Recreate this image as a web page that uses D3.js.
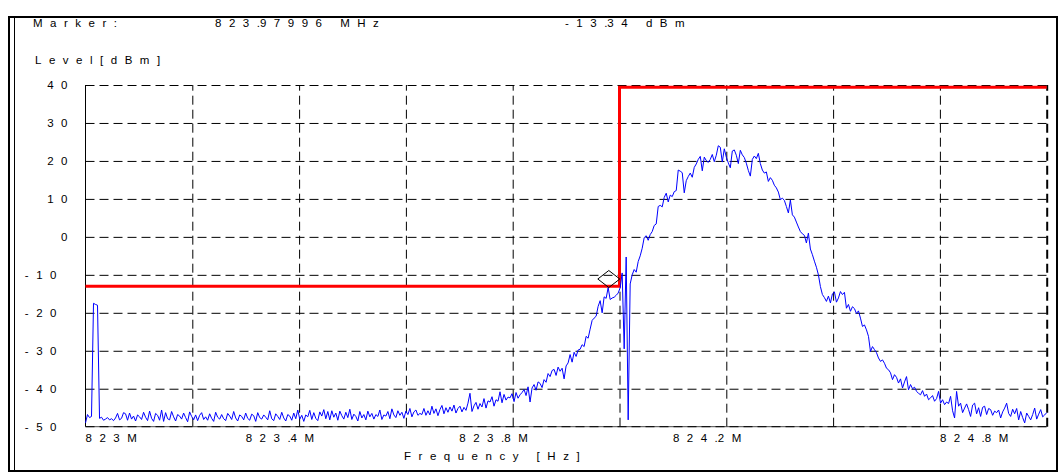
<!DOCTYPE html>
<html>
<head>
<meta charset="utf-8">
<script src="https://cdn.jsdelivr.net/npm/d3@7"></script>
<style>
  html, body { margin: 0; padding: 0; background: #fff; }
  svg { display: block; }
  text { font-family: "Liberation Sans", Arial, sans-serif; font-size: 11.5px; fill: #000; }
</style>
</head>
<body>
<svg id="chart" width="1060" height="472"></svg>
<script>
// Sweep: 823.0 – 824.8 MHz, evenly spaced points
const freqStartMHz = 823.0;
const freqStopMHz = 824.8;

// Measured level per sweep point [dBm]
const levelDbm = [
  -49.0, -46.8, -47.6, -47.3, -17.5, -17.8, -18.0, -47.8, -47.5, -48.3,
  -48.0, -47.6, -48.2, -47.9, -48.4, -47.7, -46.5, -48.2, -47.8, -46.3,
  -46.6, -48.3, -46.4, -48.0, -47.2, -48.5, -46.9, -47.4, -48.1, -46.2,
  -47.5, -48.4, -45.9, -47.8, -48.6, -46.5, -47.0, -48.3, -45.6, -48.6,
  -46.3, -47.9, -48.2, -46.0, -47.4, -48.5, -46.8, -47.2, -48.0, -46.4,
  -47.6, -48.7, -46.1, -47.3, -48.2, -46.9, -48.4, -47.0, -46.3, -48.1,
  -47.4, -48.3, -46.6, -47.8, -48.6, -46.2, -47.5, -48.0, -46.8, -47.9,
  -48.4, -46.5, -47.2, -48.1, -46.0, -47.7, -48.5, -46.9, -47.3, -48.2,
  -46.4, -47.8, -48.3, -46.7, -47.1, -48.6, -46.3, -47.6, -48.0, -46.9,
  -47.5, -48.2, -45.8, -47.9, -48.4, -46.6, -47.3, -48.1, -46.2, -47.7,
  -48.5, -46.8, -47.2, -48.3, -46.4, -47.9, -45.6, -48.0, -47.0, -48.6,
  -46.9, -47.4, -45.7, -48.1, -46.3, -47.8, -48.4, -46.1, -47.2, -45.5,
  -47.9, -46.0, -48.2, -45.8, -47.5, -46.4, -48.3, -45.9, -47.1, -48.0,
  -46.2, -47.6, -45.4, -48.1, -46.7, -47.3, -48.5, -46.0, -47.7, -46.8,
  -48.2, -45.9, -47.4, -46.5, -48.0, -46.8, -47.3, -45.6, -48.1, -46.9,
  -47.2, -46.0, -47.9, -45.3, -46.9, -47.6, -45.8, -47.0, -46.2, -47.8,
  -45.9, -46.8, -45.2, -47.4, -46.1, -45.6, -47.0, -46.5,
  -46.8, -45.2, -47.0, -45.8, -46.9, -44.6, -46.5, -45.3, -47.1, -45.5,
  -44.4, -46.6, -45.0, -46.2, -44.8, -45.9, -44.3, -46.4, -45.2, -44.6,
  -46.1, -44.9, -45.7, -43.8, -41.2, -46.0, -44.5, -43.6, -45.4, -43.9,
  -44.8, -42.6, -45.1, -43.2, -43.5, -42.1, -44.6, -42.9, -43.3, -40.8,
  -43.7, -41.5, -43.0, -42.2, -42.4, -41.3, -43.4, -41.0, -42.5, -41.6,
  -41.0, -40.2, -41.8, -39.5, -43.5, -39.8, -38.9, -40.4, -38.2, -38.6,
  -39.7, -37.6, -38.3, -36.0, -36.8, -35.2, -34.9, -36.5, -34.3, -35.4,
  -34.6, -37.4, -34.0, -33.2, -31.0, -33.0, -30.4, -31.5, -29.8, -29.6,
  -28.4, -28.9, -26.2, -26.7, -24.3, -22.0, -21.4, -20.9, -18.3, -16.8,
  -20.0, -15.8, -16.2, -13.34, -16.5, -16.1, -15.9, -15.4,
  -14.8, -13.4, -9.5, -29.5, -5.3, -48.2, -12.4, -10.0, -8.6, -9.3,
  -6.5, -5.0, -3.0, -0.2, 0.3, -0.9, 0.6, 1.4, 3.0, 3.4,
  8.0, 8.3, 7.9, 10.4, 11.5, 9.2, 11.0, 10.6, 11.9, 12.2,
  17.6, 17.3, 16.9, 11.6, 14.8, 15.9, 16.8, 15.7, 18.3, 19.2,
  20.4, 21.2, 17.4, 21.0, 20.1, 19.6, 20.4, 21.7, 19.8, 21.5,
  24.0, 23.6, 19.7, 23.2, 21.0, 19.5, 18.2, 22.6, 22.9, 21.5,
  19.3, 22.8, 21.6, 20.9, 19.4, 17.5, 16.0, 20.4, 21.3, 20.6,
  22.0, 19.3, 17.6, 16.8, 17.1, 14.6, 15.6, 14.9, 13.6, 12.9,
  11.8, 9.8, 10.2, 9.6, 8.0, 6.3, 9.7, 5.8, 5.2, 3.9,
  2.6, 1.4, 0.8, 0.4, -1.6, 1.0, -3.2, -4.7, -6.4, -8.0,
  -10.0, -13.1, -15.2, -16.0, -17.0, -15.6, -17.4, -15.0, -14.5, -17.2,
  -16.1, -14.4, -15.2, -14.6, -18.8, -17.8, -19.6, -18.4, -18.9, -20.2,
  -19.5, -21.4, -23.6, -23.2, -24.5, -26.2, -30.2, -28.9, -29.7, -30.5,
  -31.9, -32.8, -32.4, -33.3, -34.6, -35.0, -35.8, -37.6, -36.3, -37.0,
  -38.5, -37.4, -39.8, -38.2, -36.8, -40.3, -38.9, -40.0, -39.6, -40.7,
  -41.2, -41.6, -40.5, -42.0, -41.4, -42.9, -42.4, -41.8, -43.3, -42.6,
  -40.7, -43.8, -42.9, -44.2, -43.5, -43.9, -42.0, -45.8, -47.7, -40.7,
  -44.6, -43.8, -46.3, -45.1, -44.0, -45.5, -47.3, -44.3, -43.8, -46.6,
  -45.0, -47.3, -44.9, -44.6, -46.8, -45.2, -45.5, -47.0, -45.9, -46.3,
  -45.6, -47.7, -46.1, -45.1, -43.8, -46.5, -47.3, -45.4, -46.6, -45.2,
  -48.2, -46.0, -47.6, -49.0, -46.4, -47.3, -48.2, -46.8, -45.1, -48.0,
  -46.7, -45.5, -47.4, -46.9, -46.3
];

// Limit line (stepped)
const limitFreqMHz = [823.0, 824.0, 824.0, 824.8];
const limitLevelDbm = [-13.0, -13.0, 39.4, 39.4];

// Marker
const markerFreqMHz = 823.97996;
const markerLevelDbm = -13.34;
const markerFreqText = "823.97996 MHz";
const markerLevelText = "-13.34 dBm";

// Axes
const freqGridMHz = [823.2, 823.4, 823.6, 823.8, 824.0, 824.2, 824.4, 824.6, 824.8];
const freqTickLabels = ["823M", "823.4M", "823.8M", "824.2M", "824.8M"];
const freqTickLabelAtMHz = [823.0, 823.3, 823.7, 824.1, 824.6];
const levelTicks = [40, 30, 20, 10, 0, -10, -20, -30, -40, -50];

const svg = d3.select("#chart");
const LS = 7.5; // letter spacing of the instrument font

const x = d3.scaleLinear().domain([freqStartMHz, freqStopMHz]).range([85.5, 1046.7]);
const y = d3.scaleLinear().domain([-50, 40]).range([426.7, 85]);

// Spaced text: every glyph is followed by a gap except the decimal point
function spacedText(sel, str) {
  for (const ch of str) {
    sel.append("tspan").attr("letter-spacing", ch === "." ? 0 : LS).text(ch);
  }
  return sel;
}

// Outer frame
svg.append("rect").attr("x", 9).attr("y", 17).attr("width", 1048).attr("height", 454)
  .attr("fill", "none").attr("stroke", "#000").attr("stroke-width", 2);
svg.append("line").attr("x1", 14.5).attr("x2", 14.5).attr("y1", 17).attr("y2", 471)
  .attr("stroke", "#000").attr("stroke-width", 1);

// Header texts
spacedText(svg.append("text").attr("x", 33).attr("y", 27), "Marker:");
spacedText(svg.append("text").attr("x", 215).attr("y", 27), markerFreqText);
spacedText(svg.append("text").attr("x", 565).attr("y", 27), markerLevelText);
spacedText(svg.append("text").attr("x", 35).attr("y", 64), "Level[dBm]");

const [x0, x1] = x.range();
const [yb, yt] = y.range();

// Horizontal dashed grid
const gy = svg.append("g").attr("transform", `translate(${x0},0)`)
  .call(d3.axisLeft(y).tickValues(levelTicks.filter(v => v > -50)).tickSize(-(x1 - x0)).tickFormat(""));
gy.select(".domain").remove();
gy.selectAll(".tick line").attr("stroke", "#000").attr("stroke-dasharray", "9,5");

// Vertical dashed grid
const gx = svg.append("g").attr("transform", `translate(0,${yb})`)
  .call(d3.axisBottom(x).tickValues(freqGridMHz).tickSize(-(yb - yt)).tickFormat(""));
gx.select(".domain").remove();
gx.selectAll(".tick line").attr("stroke", "#000").attr("stroke-dasharray", "9,5")
  .attr("stroke-width", d => d === freqStopMHz ? 2 : 1);

// Solid left axis and bottom axis
svg.append("line").attr("x1", x0).attr("x2", x0).attr("y1", yt).attr("y2", yb)
  .attr("stroke", "#000");
svg.append("line").attr("x1", x0).attr("x2", x1).attr("y1", yb).attr("y2", yb)
  .attr("stroke", "#444");
svg.append("line").attr("x1", x0).attr("x2", x1).attr("y1", yb).attr("y2", yb)
  .attr("stroke", "#000").attr("stroke-dasharray", "9,5");

// Level tick labels
levelTicks.forEach(v => {
  const t = svg.append("text")
    .attr("x", v < 0 ? 64 : 75)
    .attr("y", y(v)).attr("dy", "0.35em")
    .attr("text-anchor", "end");
  spacedText(t, String(v));
});

// Frequency tick labels
freqTickLabels.forEach((lab, i) => {
  spacedText(svg.append("text").attr("x", x(freqTickLabelAtMHz[i])).attr("y", 442), lab);
});
spacedText(svg.append("text").attr("x", 404).attr("y", 460), "Frequency [Hz]");

// Limit line
const limitLine = d3.line().x(d => x(d[0])).y(d => y(d[1]));
svg.append("path")
  .datum(limitFreqMHz.map((f, i) => [f, limitLevelDbm[i]]))
  .attr("d", limitLine)
  .attr("fill", "none").attr("stroke", "#ff0000").attr("stroke-width", 3);

// Measured trace
const step = (freqStopMHz - freqStartMHz) / (levelDbm.length - 1);
const traceLine = d3.line().x((d, i) => x(freqStartMHz + i * step)).y(d => y(d));
svg.append("path")
  .datum(levelDbm)
  .attr("d", traceLine)
  .attr("fill", "none").attr("stroke", "#0000ff").attr("stroke-width", 1)
  .attr("stroke-linejoin", "miter");

// Marker diamond sitting on the marker point
const mx = x(markerFreqMHz), my = y(markerLevelDbm);
svg.append("path")
  .attr("d", `M${mx},${my} L${mx + 11},${my - 8.5} L${mx},${my - 17} L${mx - 11},${my - 8.5} Z`)
  .attr("fill", "none").attr("stroke", "#000").attr("stroke-width", 1);
</script>
</body>
</html>
